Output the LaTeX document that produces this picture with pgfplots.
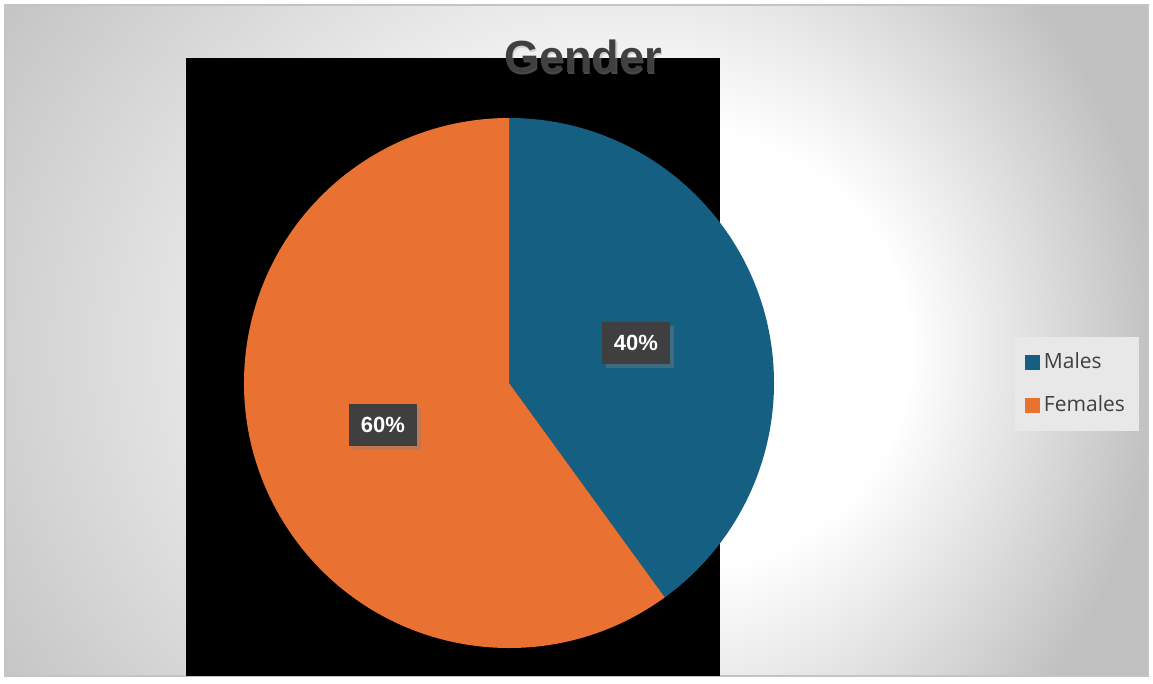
\documentclass[border=0pt]{standalone}
\usepackage{pgfplots}
\pgfplotsset{compat=1.18}
\usepackage{pgfplotstable}
\usepackage{fontspec}
\setmainfont{Liberation Sans}
\newfontfamily\legfont{Open Sans}
\usetikzlibrary{shadows,calc}
\definecolor{males}{HTML}{156082}
\definecolor{females}{HTML}{E97132}
\definecolor{lblbox}{HTML}{3F3F3F}
\definecolor{titlec}{HTML}{404040}
\definecolor{bgedge}{HTML}{C0C0C0}
\definecolor{framec}{HTML}{C4C4C4}
\definecolor{legbg}{HTML}{E8E8E8}

\pgfplotstableread{
label value lx ly
Males 40 636 335
Females 60 383 253
}\piedata

\pgfplotstablegetelem{0}{value}\of\piedata
\pgfmathsetmacro{\valA}{\pgfplotsretval}
\pgfplotstablegetelem{1}{value}\of\piedata
\pgfmathsetmacro{\valB}{\pgfplotsretval}
\pgfmathsetmacro{\angA}{90-3.6*\valA}
\pgfmathsetmacro{\angB}{\angA-3.6*\valB}

% focus offset to the right of the outer centre
\pgfdeclareradialshading{bgshade}{\pgfpoint{8.22bp}{0bp}}{color(0bp)=(white); color(6.58bp)=(white); color(18.29bp)=(bgedge); color(20.3bp)=(bgedge)}

\begin{document}
\begin{tikzpicture}
\begin{axis}[
  x=0.5pt, y=0.5pt,
  xmin=0, xmax=1153, ymin=0, ymax=678,
  hide axis, scale only axis, clip=false,
  legend style={at={(axis cs:1077,294)}, anchor=center, draw=none, fill=legbg,
    font=\legfont\fontsize{10.5}{12}\selectfont, text=titlec, row sep=8pt,
    inner xsep=5pt, inner ysep=6pt, cells={anchor=west}},
]
% background
\fill[white] (axis cs:0,0) rectangle (axis cs:1153,678);
\begin{scope}
\clip (axis cs:5,2) rectangle (axis cs:1148,673);
\fill[bgedge] (axis cs:5,2) rectangle (axis cs:1148,673);
\shade[shading=bgshade] (axis cs:472,328) ellipse[x radius=450pt, y radius=417.5pt];
\end{scope}
\draw[framec, line width=1pt] (axis cs:5,2) rectangle (axis cs:1148,673);
% black plot area
\fill[black] (axis cs:186,2) rectangle (axis cs:720,620);
% pie wedges
\fill[males] (axis cs:509,295) -- (axis cs:509,560) arc[start angle=90, end angle=\angA, radius=132.5pt] -- cycle;
\fill[females] (axis cs:509,295) -- ($(axis cs:509,295)+(\angA:132.5pt)$) arc[start angle=\angA, end angle=\angB, radius=132.5pt] -- cycle;
% labels
\addplot[forget plot, draw=none, mark=none,
  nodes near coords={\pgfmathprintnumber[assume math mode=true]{\pgfplotspointmeta}\%},
  point meta=explicit,
  nodes near coords style={anchor=center, fill=lblbox, text=white,
    font=\bfseries\fontsize{11}{12}\selectfont, minimum width=34pt, minimum height=21pt,
    inner sep=0pt, drop shadow={opacity=0.4, shadow xshift=2pt, shadow yshift=-2.2pt}}]
  table[x=lx, y=ly, meta=value] {\piedata};
% title
\node[font=\bfseries\fontsize{22.5}{26}\selectfont, text=black!35, opacity=0.45] at (axis cs:584.5,620) {Gender};
\node[font=\bfseries\fontsize{22.5}{26}\selectfont, text=titlec] at (axis cs:583,622) {Gender};
% legend
\addlegendimage{legend image code/.code={\fill[males] (0pt,-3.5pt) rectangle (7pt,3.5pt);}}
\addlegendentry{Males}
\addlegendimage{legend image code/.code={\fill[females] (0pt,-3.5pt) rectangle (7pt,3.5pt);}}
\addlegendentry{Females}
\end{axis}
\end{tikzpicture}
\end{document}
